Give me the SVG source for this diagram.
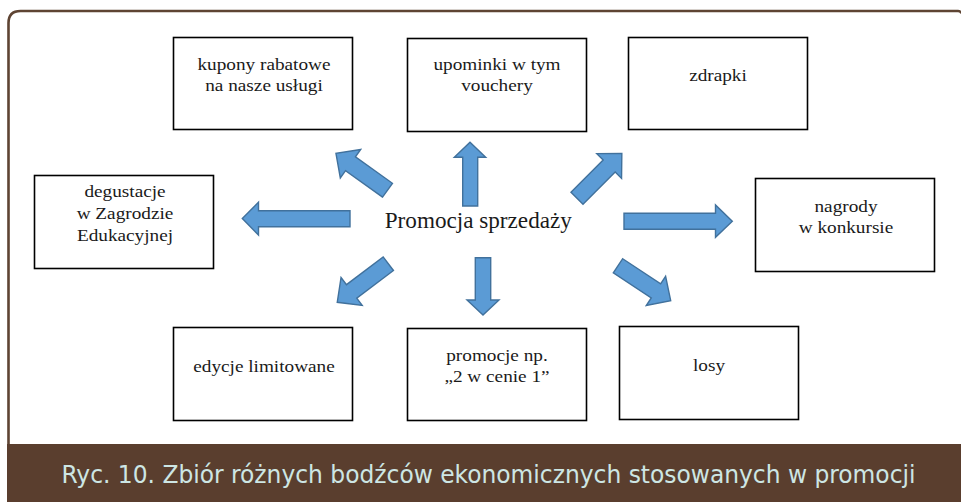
<svg xmlns="http://www.w3.org/2000/svg" width="961" height="502" viewBox="0 0 961 502">
<defs>
<style>
.box{fill:#ffffff;stroke:#000000;stroke-width:1.6}
.t{font-family:"Liberation Serif","DejaVu Serif",serif;font-size:17.5px;fill:#1a1a1a;text-anchor:middle}
.arr{fill:#5b9bd5;stroke:#41719c;stroke-width:1.4;stroke-linejoin:miter}
.cap{font-family:"DejaVu Sans Condensed","DejaVu Sans",sans-serif;font-stretch:condensed;font-size:25px;fill:#cde6e4}
</style>
</defs>
<rect width="961" height="502" fill="#ffffff"/>
<g id="frame">
<path d="M8.5,502 L8.5,23 Q8.5,11 20.5,11 L958,11 Q960,11 961.5,13" fill="none" stroke="#5e4433" stroke-width="2.6"/>
<path d="M7,444 L962,444 L962,502 L7,502 Z" fill="#5a3e2e"/>
<text class="cap" x="61.5" y="483" textLength="854" lengthAdjust="spacingAndGlyphs">Ryc. 10. Zbiór różnych bodźców ekonomicznych stosowanych w promocji</text>
</g>
<g id="connectors">
<polygon class="arr" points="350,210.7 258.5,210.7 258.5,202.3 242.3,218.5 258.5,235 258.5,226.7 350,226.7"/>
<polygon class="arr" points="624,213.3 715.5,213.3 715.5,205 732.3,221.2 715.5,237.3 715.5,229.3 624,229.3"/>
<polygon class="arr" points="462.7,206 462.7,157.3 454.3,157.3 470,142.3 485.7,157.3 477.7,157.3 477.7,206"/>
<polygon class="arr" points="475.3,257.7 475.3,300 467,300 483,315 499,300 490.7,300 490.7,257.7"/>
<polygon class="arr" transform="translate(387.5,190.2) rotate(-144.4)" points="0,-8.5 45.5,-8.5 45.5,-17.5 63.4,0 45.5,17.5 45.5,8.5 0,8.5"/>
<polygon class="arr" transform="translate(577,198.2) rotate(-45)" points="0,-8.5 45.5,-8.5 45.5,-17.5 63.4,0 45.5,17.5 45.5,8.5 0,8.5"/>
<polygon class="arr" transform="translate(388.3,263.7) rotate(142.9)" points="0,-8.5 46,-8.5 46,-17.5 64,0 46,17.5 46,8.5 0,8.5"/>
<polygon class="arr" transform="translate(618,265.8) rotate(33.5)" points="0,-8.5 45.5,-8.5 45.5,-17.5 63.2,0 45.5,17.5 45.5,8.5 0,8.5"/>
</g>
<g id="center">
<text x="478.3" y="228" transform="matrix(1.03,0,0,1,-14.35,0)" font-family="'Liberation Serif','DejaVu Serif',serif" font-size="22.5" fill="#1a1a1a" text-anchor="middle">Promocja sprzedaży</text>
</g>
<g id="kupony">
<rect class="box" x="173.5" y="37.5" width="179" height="92"/>
<g transform="matrix(1.1,0,0,1,-26.4,0)">
<text class="t" x="264" y="70.5">kupony rabatowe</text>
<text class="t" x="264" y="91">na nasze usługi</text>
</g>
</g>
<g id="upominki">
<rect class="box" x="407.5" y="38.5" width="179" height="93"/>
<g transform="matrix(1.1,0,0,1,-49.7,0)">
<text class="t" x="497" y="70.5">upominki w tym</text>
<text class="t" x="497" y="91">vouchery</text>
</g>
</g>
<g id="zdrapki">
<rect class="box" x="628.5" y="37.5" width="179" height="92"/>
<g transform="matrix(1.1,0,0,1,-71.8,0)">
<text class="t" x="718" y="81">zdrapki</text>
</g>
</g>
<g id="degustacje">
<rect class="box" x="34.5" y="175.5" width="179" height="93"/>
<g transform="matrix(1.1,0,0,1,-12.5,0)">
<text class="t" x="125" y="197">degustacje</text>
<text class="t" x="125" y="219">w Zagrodzie</text>
<text class="t" x="125" y="241">Edukacyjnej</text>
</g>
</g>
<g id="nagrody">
<rect class="box" x="755.5" y="178.5" width="179" height="93"/>
<g transform="matrix(1.1,0,0,1,-84.6,0)">
<text class="t" x="846" y="212">nagrody</text>
<text class="t" x="846" y="233.5">w konkursie</text>
</g>
</g>
<g id="edycje">
<rect class="box" x="173.5" y="327.5" width="179" height="93"/>
<g transform="matrix(1.1,0,0,1,-26.4,0)">
<text class="t" x="264" y="372">edycje limitowane</text>
</g>
</g>
<g id="promocje">
<rect class="box" x="407.5" y="328.5" width="179" height="92"/>
<g transform="matrix(1.1,0,0,1,-49.7,0)">
<text class="t" x="497" y="361">promocje np.</text>
<text class="t" x="497" y="382">„2 w cenie 1”</text>
</g>
</g>
<g id="losy">
<rect class="box" x="619.5" y="326.5" width="179" height="93"/>
<g transform="matrix(1.1,0,0,1,-70.9,0)">
<text class="t" x="709" y="371">losy</text>
</g>
</g>
</svg>
